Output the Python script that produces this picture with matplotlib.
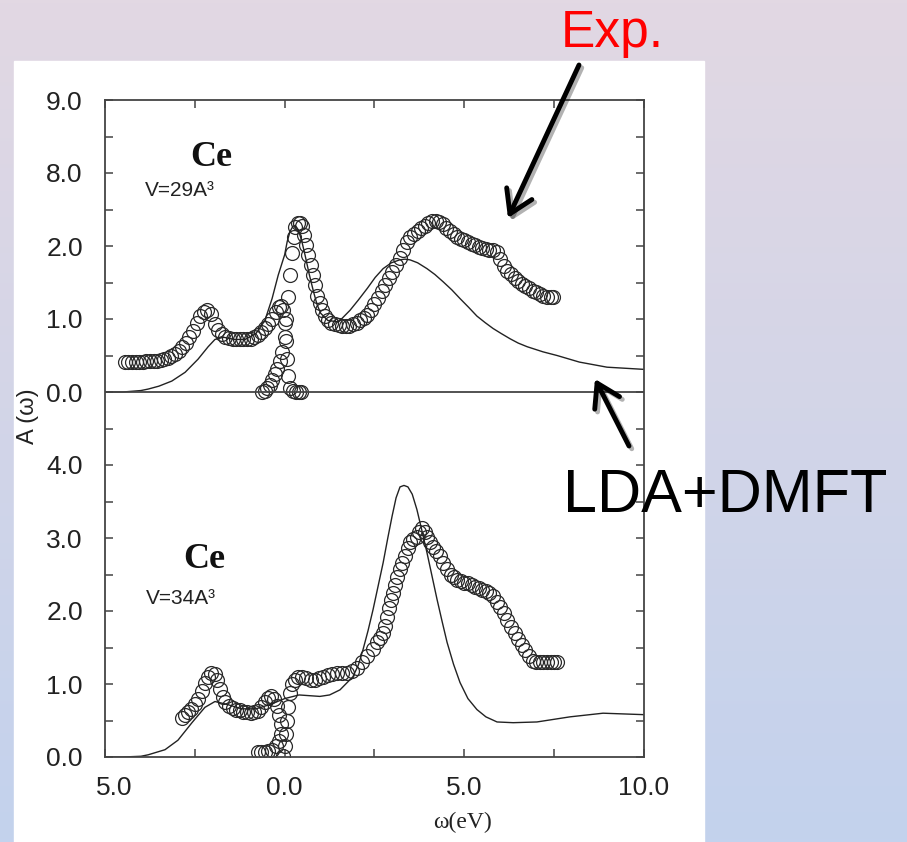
import numpy as np
import matplotlib
matplotlib.use("Agg")
import matplotlib.pyplot as plt
import matplotlib.patheffects as pe
import matplotlib.transforms as mtrans
from matplotlib.patches import Rectangle, FancyArrowPatch

# ---- data (omega in eV, A(omega)) ----
# upper panel, V=29A^3 : photoemission (PES) and inverse photoemission (BIS)
pes29_x = [-4.45, -4.35, -4.25, -4.15, -4.05, -3.95, -3.85, -3.75, -3.65, -3.55,
           -3.45, -3.35, -3.25, -3.15, -3.05, -2.95, -2.85, -2.75, -2.65, -2.55,
           -2.45, -2.35, -2.25, -2.15, -2.05, -1.95, -1.85, -1.75, -1.65, -1.55,
           -1.45, -1.35, -1.25, -1.15, -1.05, -0.95, -0.85, -0.75, -0.65, -0.55,
           -0.45, -0.35, -0.25, -0.17, -0.10, -0.04, 0.00, 0.03, 0.06, 0.10,
           0.16, 0.24, 0.32, 0.40, 0.46]
pes29_y = [0.41, 0.41, 0.41, 0.41, 0.41, 0.41, 0.42, 0.42, 0.42, 0.43,
           0.44, 0.45, 0.47, 0.49, 0.52, 0.56, 0.61, 0.67, 0.75, 0.84,
           0.94, 1.04, 1.10, 1.13, 1.07, 0.93, 0.85, 0.79, 0.76, 0.74,
           0.73, 0.72, 0.72, 0.72, 0.72, 0.73, 0.75, 0.78, 0.82, 0.87,
           0.93, 1.00, 1.10, 1.17, 1.18, 1.12, 0.95, 0.70, 0.45, 0.22,
           0.06, 0.01, 0.00, 0.00, 0.00]
bis29_x = [-0.62, -0.55, -0.48, -0.42, -0.35, -0.28, -0.20, -0.13, -0.07, 0.00,
           0.05, 0.10, 0.15, 0.20, 0.25, 0.30, 0.36, 0.42, 0.48, 0.54,
           0.60, 0.66, 0.72, 0.78, 0.84, 0.91, 0.98, 1.05, 1.12, 1.20,
           1.30, 1.40, 1.50, 1.60, 1.70, 1.80, 1.90, 2.00, 2.10, 2.20,
           2.30, 2.40, 2.50, 2.60, 2.70, 2.80, 2.90, 3.00, 3.10, 3.20,
           3.30, 3.40, 3.50, 3.60, 3.70, 3.80, 3.90, 4.00, 4.10, 4.20,
           4.30, 4.40, 4.50, 4.60, 4.70, 4.80, 4.90, 5.00, 5.10, 5.20,
           5.30, 5.40, 5.50, 5.60, 5.70, 5.80, 5.90, 6.00, 6.10, 6.20,
           6.30, 6.40, 6.50, 6.60, 6.70, 6.80, 6.90, 7.00, 7.10, 7.20,
           7.30, 7.40, 7.47]
bis29_y = [0.00, 0.02, 0.05, 0.10, 0.17, 0.24, 0.32, 0.42, 0.55, 0.75,
           1.00, 1.30, 1.60, 1.90, 2.12, 2.26, 2.32, 2.32, 2.27, 2.15,
           2.02, 1.88, 1.74, 1.60, 1.46, 1.32, 1.22, 1.12, 1.04, 0.98,
           0.95, 0.93, 0.92, 0.91, 0.91, 0.91, 0.93, 0.95, 0.98, 1.02,
           1.06, 1.12, 1.20, 1.29, 1.38, 1.47, 1.56, 1.65, 1.74, 1.83,
           1.95, 2.05, 2.12, 2.17, 2.20, 2.24, 2.28, 2.32, 2.34, 2.34,
           2.33, 2.30, 2.25, 2.20, 2.16, 2.12, 2.10, 2.08, 2.05, 2.03,
           2.01, 1.99, 1.97, 1.96, 1.95, 1.94, 1.92, 1.82, 1.72, 1.66,
           1.61, 1.56, 1.52, 1.48, 1.45, 1.42, 1.39, 1.37, 1.34, 1.32,
           1.30, 1.30, 1.30]
theo29_x = [-5.0, -4.5, -4.0, -3.8, -3.5, -3.14, -2.77, -2.41, -2.13, -1.94,
            -1.7, -1.4, -1.1, -0.8, -0.55, -0.35, -0.18, 0.0, 0.07, 0.15,
            0.23, 0.3, 0.38, 0.47, 0.57, 0.68, 0.8, 0.9, 1.0, 1.2,
            1.5, 1.82, 2.05, 2.3, 2.52, 2.74, 2.97, 3.2, 3.35, 3.49,
            3.7, 3.96, 4.18, 4.41, 4.65, 4.88, 5.12, 5.35, 5.58, 5.8,
            6.03, 6.27, 6.5, 6.75, 7.19, 7.58, 8.2, 8.97, 10.0]
theo29_y = [0.0, 0.0, 0.02, 0.04, 0.08, 0.15, 0.27, 0.45, 0.62, 0.72,
            0.75, 0.72, 0.72, 0.8, 0.98, 1.28, 1.6, 1.88, 2.06, 2.2,
            2.27, 2.28, 2.22, 2.08, 1.87, 1.62, 1.38, 1.2, 1.08, 0.98,
            0.96, 1.12, 1.26, 1.42, 1.57, 1.69, 1.77, 1.81, 1.82, 1.81,
            1.77, 1.69, 1.61, 1.51, 1.4, 1.28, 1.16, 1.04, 0.95, 0.87,
            0.8, 0.73, 0.67, 0.62, 0.55, 0.5, 0.41, 0.34, 0.31]

# lower panel, V=34A^3
pes34_x = [-2.86, -2.78, -2.69, -2.60, -2.50, -2.40, -2.30, -2.21, -2.13, -2.04,
           -1.94, -1.87, -1.80, -1.73, -1.66, -1.55, -1.45, -1.35, -1.25, -1.15,
           -1.05, -0.95, -0.85, -0.75, -0.65, -0.55, -0.46, -0.38, -0.30, -0.22,
           -0.15, -0.10, -0.10, -0.15, -0.25, -0.35, -0.45, -0.55, -0.65, -0.75]
pes34_y = [0.54, 0.57, 0.61, 0.66, 0.72, 0.80, 0.90, 1.02, 1.10, 1.15,
           1.14, 1.05, 0.93, 0.82, 0.75, 0.70, 0.67, 0.65, 0.64, 0.62,
           0.61, 0.60, 0.61, 0.63, 0.68, 0.75, 0.81, 0.84, 0.80, 0.70,
           0.58, 0.45, 0.32, 0.22, 0.15, 0.10, 0.08, 0.07, 0.07, 0.07]
bis34_x = [-0.05, 0.00, 0.03, 0.06, 0.10, 0.15, 0.20, 0.28, 0.38, 0.48,
           0.60, 0.72, 0.84, 0.96, 1.08, 1.20, 1.32, 1.45, 1.60, 1.74,
           1.87, 2.00, 2.15, 2.30, 2.45, 2.57, 2.66, 2.74, 2.80, 2.85,
           2.90, 2.95, 3.02, 3.08, 3.13, 3.20, 3.27, 3.35, 3.42, 3.49,
           3.58, 3.68, 3.75, 3.82, 3.90, 3.96, 4.05, 4.13, 4.22, 4.32,
           4.42, 4.52, 4.62, 4.72, 4.80, 4.90, 5.00, 5.10, 5.20, 5.30,
           5.40, 5.50, 5.60, 5.70, 5.80, 5.90, 6.00, 6.10, 6.20, 6.30,
           6.40, 6.50, 6.60, 6.70, 6.80, 6.90, 7.00, 7.10, 7.20, 7.30,
           7.40, 7.50, 7.58]
bis34_y = [0.02, 0.15, 0.32, 0.50, 0.69, 0.88, 1.00, 1.06, 1.10, 1.10,
           1.08, 1.06, 1.06, 1.08, 1.10, 1.12, 1.14, 1.15, 1.15, 1.15,
           1.18, 1.22, 1.30, 1.38, 1.48, 1.57, 1.63, 1.70, 1.80, 1.92,
           2.04, 2.15, 2.25, 2.36, 2.47, 2.57, 2.66, 2.76, 2.86, 2.94,
           2.98, 3.02, 3.08, 3.14, 3.08, 3.02, 2.95, 2.88, 2.82, 2.75,
           2.66, 2.57, 2.50, 2.46, 2.43, 2.41, 2.39, 2.38, 2.36, 2.33,
           2.31, 2.29, 2.27, 2.24, 2.20, 2.13, 2.06, 1.97, 1.88, 1.78,
           1.70, 1.62, 1.54, 1.47, 1.39, 1.31, 1.30, 1.30, 1.30, 1.30,
           1.30, 1.30, 1.30]
theo34_x = [-5.0, -4.5, -4.0, -3.8, -3.33, -2.97, -2.58, -2.22, -1.94, -1.6,
            -1.2, -0.8, -0.4, 0.0, 0.4, 0.98, 1.25, 1.54, 1.9, 2.05,
            2.18, 2.32, 2.46, 2.6, 2.74, 2.87, 2.99, 3.1, 3.21, 3.32,
            3.43, 3.55, 3.68, 3.82, 3.96, 4.1, 4.24, 4.38, 4.52, 4.7,
            4.88, 5.1, 5.35, 5.6, 5.91, 6.36, 7.02, 7.94, 8.86, 10.0]
theo34_y = [0.0, 0.0, 0.01, 0.03, 0.1, 0.23, 0.47, 0.68, 0.76, 0.72,
            0.66, 0.66, 0.72, 0.8, 0.85, 0.83, 0.85, 0.92, 1.1, 1.26,
            1.47, 1.73, 2.02, 2.34, 2.66, 3.0, 3.3, 3.55, 3.7, 3.72,
            3.7, 3.6, 3.39, 3.1, 2.8, 2.48, 2.16, 1.86, 1.57, 1.27,
            1.02, 0.8, 0.65, 0.55, 0.48, 0.47, 0.48, 0.55, 0.6, 0.58]

# y tick labels as printed in the figure (lower panel 0-4, upper panel offset by 5)
ytick_pos = [0, 1, 2, 3, 4, 5, 6, 7, 8, 9]
ytick_lab = ["0.0", "1.0", "2.0", "3.0", "4.0", "0.0", "1.0", "2.0", "8.0", "9.0"]
xtick_pos = [-5, 0, 5, 10]
xtick_lab = ["5.0", "0.0", "5.0", "10.0"]
offset = 5.0

W, H = 907, 842
fig = plt.figure(figsize=(W / 100, H / 100), dpi=100)

# slide background gradient + white picture area
bg = fig.add_axes([0, 0, 1, 1], zorder=-10)
top_c = np.array([226, 216, 227]) / 255
bot_c = np.array([195, 210, 237]) / 255
t = np.linspace(0, 1, 256)[:, None, None]
grad = top_c * (1 - t) + bot_c * t
grad = np.repeat(grad, 2, axis=1)
bg.imshow(grad, aspect="auto", extent=[0, 1, 0, 1], origin="upper")
bg.add_patch(Rectangle((14 / W, 0), 690 / W, (H - 61) / H, color="white",
                       transform=bg.transAxes))
bg.set_axis_off()

ax = fig.add_axes([105 / W, 1 - 757 / H, 539 / W, 657 / H])
gray = "#444444"
mk = dict(ls="none", marker="o", ms=10, mfc="none", mec="#2a2a2a", mew=0.9)

ax.plot(pes29_x, np.array(pes29_y) + offset, **mk)
ax.plot(bis29_x, np.array(bis29_y) + offset, **mk)
ax.plot(theo29_x, np.array(theo29_y) + offset, color="#222222", lw=1.0)
ax.plot(pes34_x, pes34_y, **mk)
ax.plot(bis34_x, bis34_y, **mk)
ax.plot(theo34_x, theo34_y, color="#222222", lw=1.0)
ax.axhline(offset, color=gray, lw=1.3)

ax.set_xlim(-5, 10)
ax.set_ylim(0, 9)
ax.set_xticks(xtick_pos)
ax.set_xticklabels(xtick_lab)
ax.set_xticks([-2.5, 2.5, 7.5], minor=True)
ax.set_yticks(ytick_pos)
ax.set_yticklabels(ytick_lab)
ax.set_yticks(np.arange(0.5, 9, 1.0), minor=True)
ax.tick_params(which="both", direction="in", length=6, width=1.1, color=gray,
               top=True, right=True, labelsize=19, labelcolor="#222222",
               labelfontfamily="Liberation Sans")
ax.tick_params(axis="y", pad=16)
ax.tick_params(axis="x", pad=14)
for s in ax.spines.values():
    s.set_color(gray)
    s.set_linewidth(1.3)
# the leftmost x label sits a little right of its tick in the original
first = ax.get_xticklabels()[0]
first.set_transform(first.get_transform() + mtrans.ScaledTranslation(9 / 100, 0, fig.dpi_scale_trans))

fig.text(28 / W, 1 - 416 / H, "A (\u03c9)", rotation=90, ha="center", va="center",
         fontsize=17, family="Liberation Sans", color="#222222")
fig.text(462 / W, 1 - 822 / H, "\u03c9(eV)", ha="center", va="center",
         fontsize=17, family="Liberation Serif", color="#222222")

fig.text(211 / W, 1 - 157 / H, "Ce", ha="center", va="center", fontsize=26,
         family="Liberation Serif", weight="bold", color="#111111")
fig.text(145 / W, 1 - 190 / H, "V=29A\u00b3", ha="left", va="center", fontsize=15,
         family="Liberation Sans", color="#222222")
fig.text(204 / W, 1 - 560 / H, "Ce", ha="center", va="center", fontsize=26,
         family="Liberation Serif", weight="bold", color="#111111")
fig.text(146 / W, 1 - 598 / H, "V=34A\u00b3", ha="left", va="center", fontsize=15,
         family="Liberation Sans", color="#222222")

# slide annotations
fig.text(561 / W, 1 - 47 / H, "Exp.", ha="left", va="baseline", fontsize=37,
         family="Liberation Sans", color="#ff0000")
fig.text(563 / W, 1 - 512 / H, "LDA+DMFT", ha="left", va="baseline", fontsize=44,
         family="Liberation Sans", color="black")

arrow = dict(arrowstyle="->,head_length=0.8,head_width=0.5", lw=3.5, color="black",
             mutation_scale=20, shrinkA=0, shrinkB=0,
             path_effects=[pe.SimpleLineShadow(offset=(2, -2), alpha=0.3), pe.Normal()])
fig.add_artist(FancyArrowPatch((579 / W, 1 - 65 / H), (508 / W, 1 - 218 / H),
                               transform=fig.transFigure, **arrow))
fig.add_artist(FancyArrowPatch((629 / W, 1 - 446 / H), (595 / W, 1 - 379 / H),
                               transform=fig.transFigure, **arrow))

fig.savefig("out.png", dpi=100)
